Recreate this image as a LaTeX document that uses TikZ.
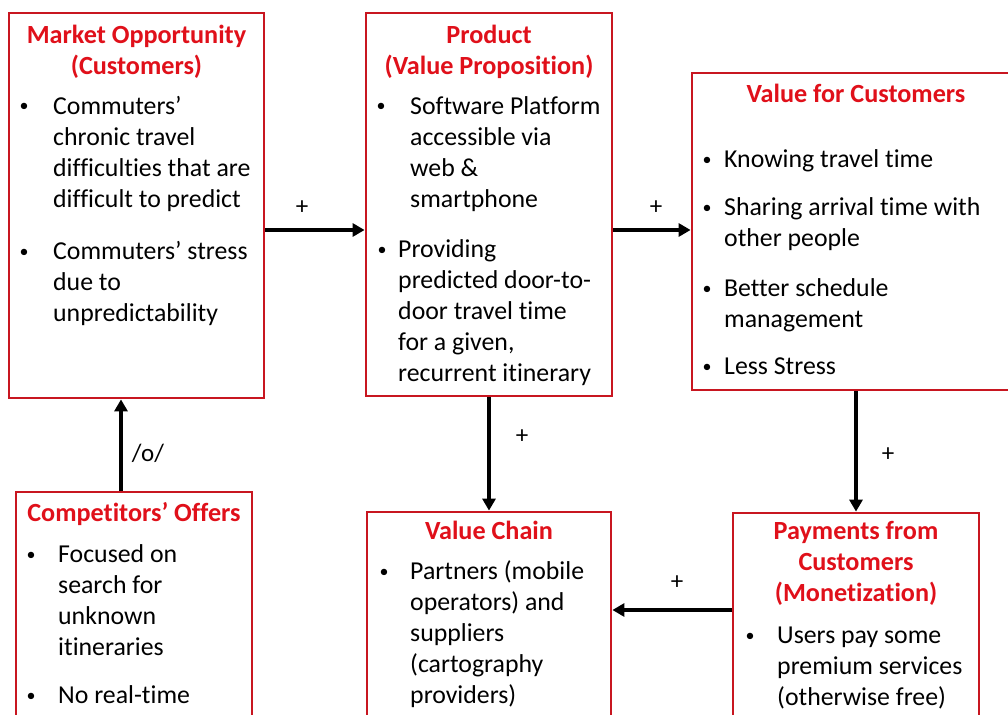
\documentclass[tikz,border=0pt]{standalone}
\usepackage{fontspec}
\setmainfont[Ligatures=NoCommon]{Carlito}
\usetikzlibrary{arrows.meta}
\definecolor{boxred}{RGB}{200,22,32}
\definecolor{titlered}{RGB}{224,16,26}
\newcommand\bitem[6]{%
  \node[bul] (#1b) at (#2,#4-1) {•};
  \node[txt] (#1) at (#3,#4+1.5) {\begin{tabular}[t]{@{}l@{}}#5\end{tabular}};}
\begin{document}
\begin{tikzpicture}[x=1pt,y=-1pt,
  box/.style={draw=boxred,line width=2.8pt,rectangle,inner sep=0pt,fill=none},
  ttl/.style={anchor=base,inner sep=0pt,text=titlered,yshift=-1.5pt,font=\bfseries\fontsize{26.2}{31}\selectfont},
  txt/.style={anchor=base west,inner sep=0pt,font=\fontsize{25.8}{31}\selectfont},
  bul/.style={anchor=base,inner sep=0pt,font=\fontsize{18}{31}\selectfont},
  arr/.style={line width=3.5pt,-{Triangle[length=12pt,width=13pt]}},
  lbl/.style={inner sep=0pt,font=\fontsize{25}{28}\selectfont}]
\useasboundingbox (0,0) rectangle (1008,714);
\clip (0,0) rectangle (1008,714);
\fill[white] (0,0) rectangle (1008,714);
% boxes
\node[box,minimum width=255pt,minimum height=385pt] (mo) at (136.5,205.5) {};
\node[box,minimum width=246pt,minimum height=383pt] (pr) at (489,204.5) {};
\node[box,minimum width=328pt,minimum height=317pt] (vfc) at (856,231.5) {};
\node[box,minimum width=236pt,minimum height=268pt] (co) at (134,626) {};
\node[box,minimum width=244pt,minimum height=248pt] (vc) at (489,636) {};
\node[box,minimum width=246pt,minimum height=247pt] (pay) at (856,636.5) {};
% titles
\node[ttl] (mot) at (136.5,42) {\begin{tabular}[t]{@{}c@{}}Market Opportunity\\(Customers)\end{tabular}};
\node[ttl] (prt) at (489,42) {\begin{tabular}[t]{@{}c@{}}Product\\(Value Proposition)\end{tabular}};
\node[ttl] (vfct) at (856,101) {Value for Customers};
\node[ttl] (cot) at (134,520) {Competitors’ Offers};
\node[ttl] (vct) at (489,538) {Value Chain};
\node[ttl] (payt) at (856,538) {\begin{tabular}[t]{@{}c@{}}Payments from\\Customers\\(Monetization)\end{tabular}};
% bullets
\bitem{mo1}{24}{53}{113}{Commuters’\\chronic travel\\difficulties that are\\difficult to predict}{}
\bitem{mo2}{24}{53}{258}{Commuters’ stress\\due to\\unpredictability}{}
\bitem{pr1}{381}{410}{113}{Software Platform\\accessible via\\web \&\\smartphone}{}
\bitem{pr2}{382}{398}{256}{Providing\\predicted door-to-\\door travel time\\for a given,\\recurrent itinerary}{}
\bitem{vf1}{707}{724}{166}{Knowing travel time}{}
\bitem{vf2}{707}{724}{214}{Sharing arrival time with\\other people}{}
\bitem{vf3}{707}{724}{295}{Better schedule\\management}{}
\bitem{vf4}{707}{724}{373}{Less Stress}{}
\bitem{co1}{31}{58}{561}{Focused on\\search for\\unknown\\itineraries}{}
\bitem{co2}{31}{58}{702}{No real-time}{}
\bitem{vc1}{384}{410}{578}{Partners (mobile\\operators) and\\suppliers\\(cartography\\providers)}{}
\bitem{pa1}{750}{777}{642}{Users pay some\\premium services\\(otherwise free)}{}
% connectors
\draw[arr] (mo.east |- 0,230) -- (pr.west |- 0,230);
\draw[arr] (pr.east |- 0,230) -- (vfc.west |- 0,230);
\draw[arr] (pr.south) -- (vc.north);
\draw[arr] (vfc.south) -- (pay.north);
\draw[arr] (pay.west |- 0,610) -- (vc.east |- 0,610);
\draw[arr] (121,0 |- co.north) -- (121,0 |- mo.south);
% labels
\node[lbl] (l1) at (302,208) {+};
\node[lbl] (l2) at (656,208) {+};
\node[lbl] (l3) at (522,437) {+};
\node[lbl] (l4) at (888,455) {+};
\node[lbl] (l5) at (677,583) {+};
\node[lbl,font=\fontsize{25}{28}\selectfont] (l6) at (148,453) {/o/};
\end{tikzpicture}
\end{document}
